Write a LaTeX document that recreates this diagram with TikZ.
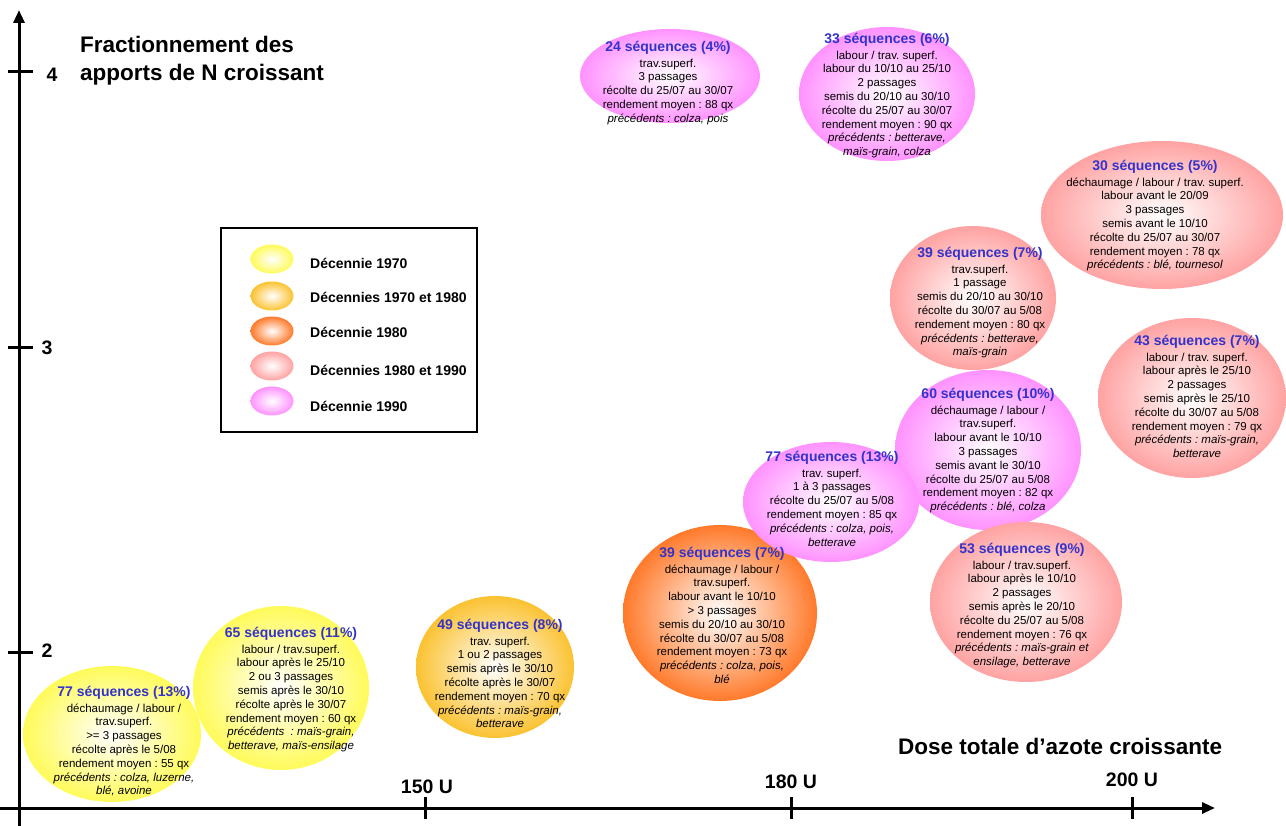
\documentclass[tikz,border=0pt]{standalone}
\usepackage{fontspec}
\setmainfont{Liberation Sans}
\usetikzlibrary{arrows.meta,shapes.geometric}
\definecolor{cY}{RGB}{255,250,50}
\definecolor{cG}{RGB}{250,180,0}
\definecolor{cO}{RGB}{255,95,0}
\definecolor{cS}{RGB}{255,140,140}
\definecolor{cP}{RGB}{255,120,255}
\definecolor{hb}{RGB}{51,51,204}
\pgfdeclareradialshading{shY}{\pgfpoint{0bp}{0bp}}{color(0bp)=(white); color(31bp)=(cY); color(50bp)=(cY)}
\pgfdeclareradialshading{shG}{\pgfpoint{0bp}{0bp}}{color(0bp)=(white); color(31bp)=(cG); color(50bp)=(cG)}
\pgfdeclareradialshading{shO}{\pgfpoint{0bp}{0bp}}{color(0bp)=(white); color(30bp)=(cO); color(50bp)=(cO)}
\pgfdeclareradialshading{shS}{\pgfpoint{0bp}{0bp}}{color(0bp)=(white); color(31bp)=(cS); color(50bp)=(cS)}
\pgfdeclareradialshading{shP}{\pgfpoint{0bp}{0bp}}{color(0bp)=(white); color(31bp)=(cP); color(50bp)=(cP)}
\newcommand\hd[1]{{\fontsize{14}{14}\selectfont\bfseries\color{hb}#1}}
\frenchspacing
\tikzset{
  bub/.style={ellipse, draw=none, inner sep=0pt},
  txt/.style={align=center, inner sep=0pt, anchor=north, font=\fontsize{11.5}{13.8}\selectfont\frenchspacing, text=black},
  axisline/.style={line width=3pt, -{Triangle[length=13pt,width=11pt]}},
  tick/.style={line width=3pt},
  axlab/.style={font=\fontsize{19.5}{20}\selectfont\bfseries, inner sep=0pt, anchor=base},
  title/.style={font=\fontsize{22.5}{27}\selectfont\bfseries, inner sep=0pt, anchor=base west},
  legtxt/.style={font=\fontsize{14}{16}\selectfont\bfseries, inner sep=0pt, anchor=base west},
  legbub/.style={ellipse, draw=none, inner sep=0pt, minimum width=43pt, minimum height=29pt}
}
\begin{document}
\begin{tikzpicture}[x=1pt,y=-1pt]
\useasboundingbox (0,0) rectangle (1286,826);
% axes
\coordinate (yb) at (19,826);
\coordinate (yt) at (19,10);
\coordinate (xl) at (0,808);
\coordinate (xr) at (1215,808);
\draw[axisline] (yb) -- (yt);
\draw[axisline] (xl) -- (xr);
\foreach \yy/\nm in {72/a,348/b,652/c}{
  \coordinate (ty\nm1) at (8,\yy); \coordinate (ty\nm2) at (33,\yy);
  \draw[tick] (ty\nm1) -- (ty\nm2);}
\foreach \xx/\nm in {425/a,791/b,1132/c}{
  \coordinate (tx\nm1) at (\xx,797); \coordinate (tx\nm2) at (\xx,819);
  \draw[tick] (tx\nm1) -- (tx\nm2);}
\node[axlab] (l4) at (52,82) {4};
\node[axlab] (l3) at (47,355) {3};
\node[axlab] (l2) at (47,657) {2};
\node[axlab] (l150) at (427,793) {150 U};
\node[axlab] (l180) at (791,788) {180 U};
\node[axlab] (l200) at (1132,786) {200 U};
\node[title] (ti1) at (80,53) {Fractionnement des};
\node[title] (ti2) at (80,81) {apports de N croissant};
\node[title] (tx) at (898,754) {Dose totale d’azote croissante};
% legend
\node[draw, line width=1.6pt, inner sep=0pt, minimum width=256pt, minimum height=204pt] (leg) at (349,330) {};
\node[legbub, shading=shY] (lg1) at (272,259) {};
\node[legbub, shading=shG] (lg2) at (272,296) {};
\node[legbub, shading=shO] (lg3) at (272,331) {};
\node[legbub, shading=shS] (lg4) at (272,366) {};
\node[legbub, shading=shP] (lg5) at (272,401) {};
\node[legtxt] (lt1) at (310,269) {Décennie 1970};
\node[legtxt] (lt2) at (310,303) {Décennies 1970 et 1980};
\node[legtxt] (lt3) at (310,338) {Décennie 1980};
\node[legtxt] (lt4) at (310,376) {Décennies 1980 et 1990};
\node[legtxt] (lt5) at (310,411) {Décennie 1990};
% bubbles
\node[bub, shading=shY, minimum width=178pt, minimum height=136pt] (e1) at (112,734) {};
\node[bub, shading=shY, minimum width=176pt, minimum height=164pt] (e2) at (281,688) {};
\node[bub, shading=shG, minimum width=158pt, minimum height=142pt] (e3) at (495,667) {};
\node[bub, shading=shO, minimum width=194pt, minimum height=176pt] (e4) at (720,613) {};
\node[bub, shading=shS, minimum width=166pt, minimum height=144pt] (e9) at (973,298) {};
\node[bub, shading=shP, minimum width=186pt, minimum height=160pt] (e6) at (988,450) {};
\node[bub, shading=shS, minimum width=192pt, minimum height=160pt] (e7) at (1026,602) {};
\node[bub, shading=shP, minimum width=176pt, minimum height=120pt] (e5) at (831,502) {};
\node[bub, shading=shS, minimum width=188pt, minimum height=160pt] (e8) at (1192,398) {};
\node[bub, shading=shS, minimum width=242pt, minimum height=148pt] (e10) at (1162,215) {};
\node[bub, shading=shP, minimum width=180pt, minimum height=94pt] (e11) at (670,76) {};
\node[bub, shading=shP, minimum width=176pt, minimum height=134pt] (e12) at (887,94) {};
% texts
\node[txt] (t1) at (124,686) {\hd{77 séquences (13\%)}\\[1.8pt] déchaumage / labour /\\ trav.superf.\\ >= 3 passages\\ récolte après le 5/08\\ rendement moyen : 55 qx\\ \textit{précédents : colza, luzerne,}\\ \textit{blé, avoine}};
\node[txt] (t2) at (291,627) {\hd{65 séquences (11\%)}\\[1.8pt] labour / trav.superf.\\ labour après le 25/10\\ 2 ou 3 passages\\ semis après le 30/10\\ récolte après le 30/07\\ rendement moyen : 60 qx\\ \textit{précédents\ \ : maïs-grain,}\\ \textit{betterave, maïs-ensilage}};
\node[txt] (t3) at (500,619) {\hd{49 séquences (8\%)}\\[1.8pt] trav. superf.\\ 1 ou 2 passages\\ semis après le 30/10\\ récolte après le 30/07\\ rendement moyen : 70 qx\\ \textit{précédents : maïs-grain,}\\ \textit{betterave}};
\node[txt] (t4) at (722,547) {\hd{39 séquences (7\%)}\\[1.8pt] déchaumage / labour /\\ trav.superf.\\ labour avant le 10/10\\ > 3 passages\\ semis du 20/10 au 30/10\\ récolte du 30/07 au 5/08\\ rendement moyen : 73 qx\\ \textit{précédents : colza, pois,}\\ \textit{blé}};
\node[txt] (t5) at (832,451) {\hd{77 séquences (13\%)}\\[1.8pt] trav. superf.\\ 1 à 3 passages\\ récolte du 25/07 au 5/08\\ rendement moyen : 85 qx\\ \textit{précédents : colza, pois,}\\ \textit{betterave}};
\node[txt] (t6) at (988,388) {\hd{60 séquences (10\%)}\\[1.8pt] déchaumage / labour /\\ trav.superf.\\ labour avant le 10/10\\ 3 passages\\ semis avant le 30/10\\ récolte du 25/07 au 5/08\\ rendement moyen : 82 qx\\ \textit{précédents : blé, colza}};
\node[txt] (t7) at (1022,543) {\hd{53 séquences (9\%)}\\[1.8pt] labour / trav.superf.\\ labour après le 10/10\\ 2 passages\\ semis après le 20/10\\ récolte du 25/07 au 5/08\\ rendement moyen : 76 qx\\ \textit{précédents : maïs-grain et}\\ \textit{ensilage, betterave}};
\node[txt] (t8) at (1197,335) {\hd{43 séquences (7\%)}\\[1.8pt] labour / trav. superf.\\ labour après le 25/10\\ 2 passages\\ semis après le 25/10\\ récolte du 30/07 au 5/08\\ rendement moyen : 79 qx\\ \textit{précédents : maïs-grain,}\\ \textit{betterave}};
\node[txt] (t9) at (980,247) {\hd{39 séquences (7\%)}\\[1.8pt] trav.superf.\\ 1 passage\\ semis du 20/10 au 30/10\\ récolte du 30/07 au 5/08\\ rendement moyen : 80 qx\\ \textit{précédents : betterave,}\\ \textit{maïs-grain}};
\node[txt] (t10) at (1155,160) {\hd{30 séquences (5\%)}\\[1.8pt] déchaumage / labour / trav. superf.\\ labour avant le 20/09\\ 3 passages\\ semis avant le 10/10\\ récolte du 25/07 au 30/07\\ rendement moyen : 78 qx\\ \textit{précédents : blé, tournesol}};
\node[txt] (t11) at (668,41) {\hd{24 séquences (4\%)}\\[1.8pt] trav.superf.\\ 3 passages\\ récolte du 25/07 au 30/07\\ rendement moyen : 88 qx\\ \textit{précédents : colza, pois}};
\node[txt] (t12) at (887,33) {\hd{33 séquences (6\%)}\\[1.8pt] labour / trav. superf.\\ labour du 10/10 au 25/10\\ 2 passages\\ semis du 20/10 au 30/10\\ récolte du 25/07 au 30/07\\ rendement moyen : 90 qx\\ \textit{précédents : betterave,}\\ \textit{maïs-grain, colza}};
\end{tikzpicture}
\end{document}
